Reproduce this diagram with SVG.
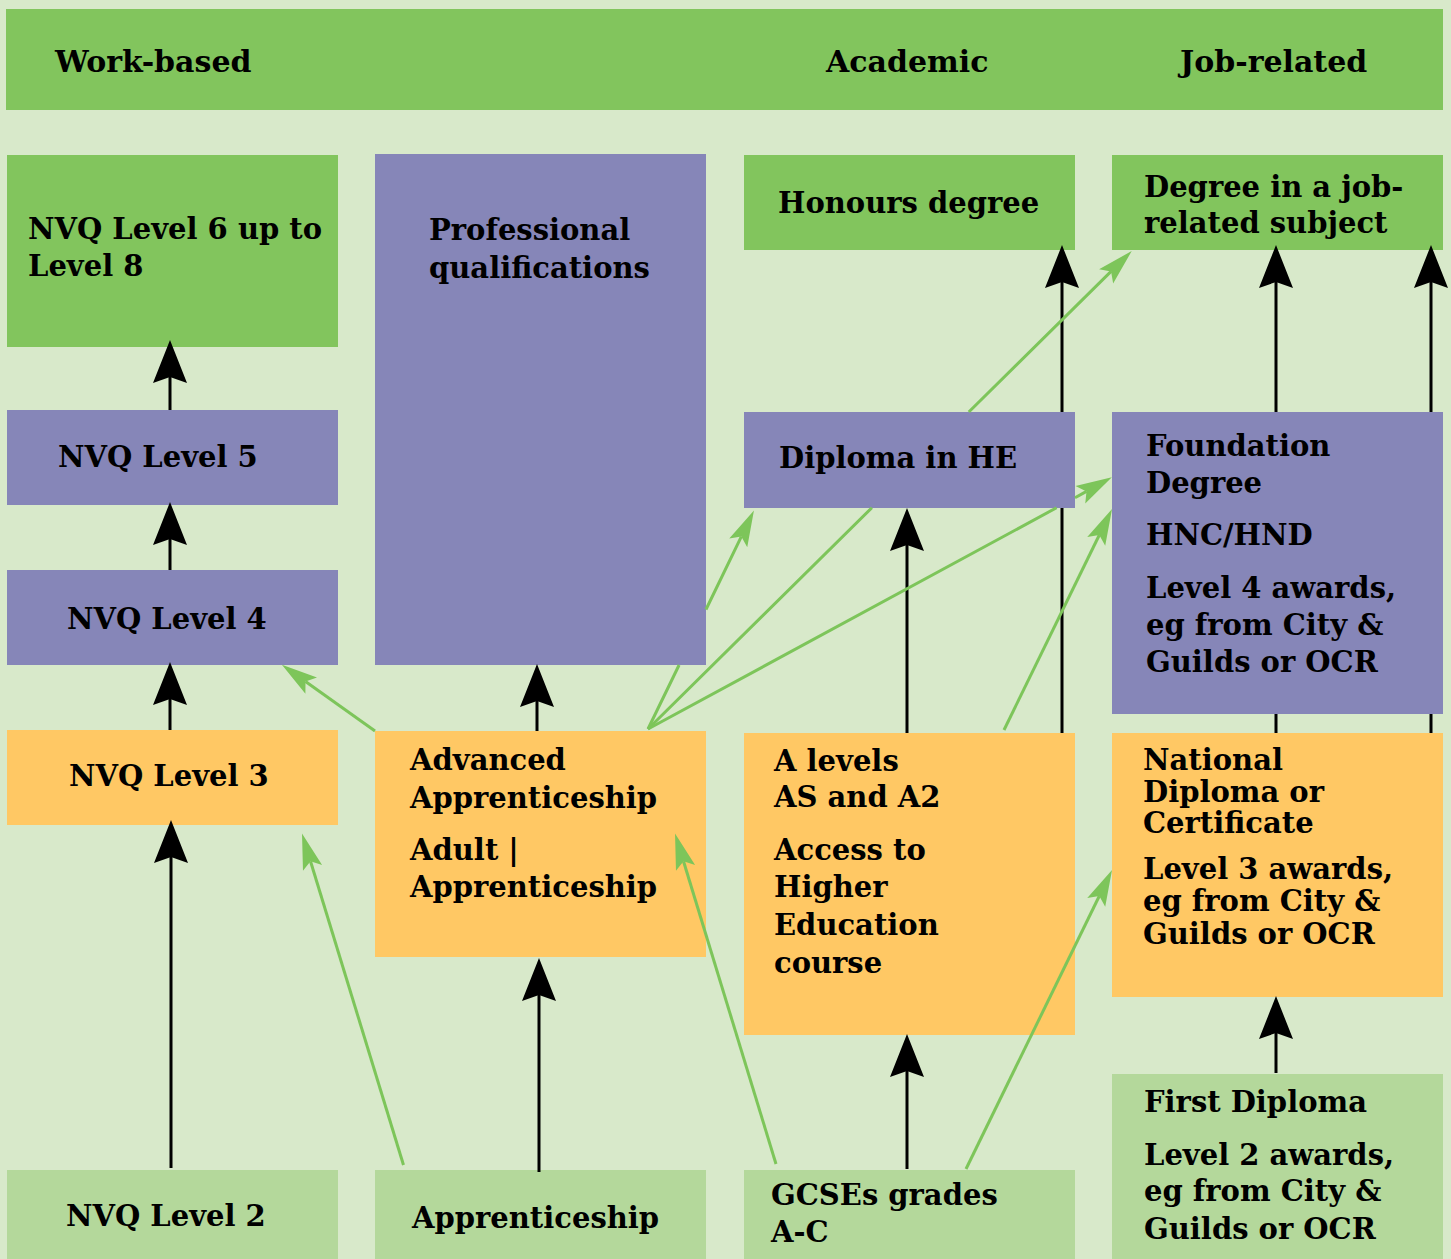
<svg xmlns="http://www.w3.org/2000/svg" width="1451" height="1259" viewBox="0 0 1451 1259">
<defs>
<style>
.bg{fill:#D8E9CA}
.g{fill:#82C55D}
.p{fill:#8686B8}
.o{fill:#FFC864}
.lg{fill:#B4D89B}
text{font-family:"DejaVu Serif","Liberation Serif",serif;font-weight:bold;font-size:29px;fill:#000}
.h{font-size:30px}
.bk{stroke:#000;stroke-width:3;fill:none;marker-end:url(#ab)}
.gr{stroke:#7DC55A;stroke-width:3;fill:none;marker-end:url(#ag)}
</style>
<marker id="ab" markerUnits="userSpaceOnUse" viewBox="-44 -18 45 36" markerWidth="45" markerHeight="36" refX="-37" refY="0" orient="auto">
<path d="M0,0 L-43,-17 L-37,0 L-43,17 Z" fill="#000"/>
</marker>
<marker id="ag" markerUnits="userSpaceOnUse" viewBox="-37 -11 38 22" markerWidth="38" markerHeight="22" refX="-29" refY="0" orient="auto">
<path d="M0,0 L-36,-10 L-29,0 L-36,10 Z" fill="#7DC55A"/>
</marker>
</defs>
<rect class="bg" x="0" y="0" width="1451" height="1259"/>
<g id="header">
<rect class="g" x="6" y="9" width="1437" height="101"/>
<text class="h" x="55" y="72">Work-based</text>
<text class="h" x="826" y="72">Academic</text>
<text class="h" x="1180" y="72">Job-related</text>
</g>
<g id="nodes">
<g id="nvq6"><rect class="g" x="7" y="155" width="331" height="192"/><text x="28" y="239">NVQ Level 6 up to</text><text x="28" y="276">Level 8</text></g>
<g id="prof"><rect class="p" x="375" y="154" width="331" height="511"/><text x="429" y="240">Professional</text><text x="429" y="278">qualifications</text></g>
<g id="honours"><rect class="g" x="744" y="155" width="331" height="95"/><text x="778" y="213">Honours degree</text></g>
<g id="degjob"><rect class="g" x="1112" y="155" width="331" height="95"/><text x="1144" y="197">Degree in a job-</text><text x="1144" y="233">related subject</text></g>
<g id="nvq5"><rect class="p" x="7" y="410" width="331" height="95"/><text x="58" y="467">NVQ Level 5</text></g>
<g id="diphe"><rect class="p" x="744" y="412" width="331" height="96"/><text x="779" y="468">Diploma in HE</text></g>
<g id="foundation"><rect class="p" x="1112" y="412" width="331" height="302"/><text x="1146" y="456">Foundation</text><text x="1146" y="493">Degree</text><text x="1146" y="545">HNC/HND</text><text x="1146" y="598">Level 4 awards,</text><text x="1146" y="635">eg from City &amp;</text><text x="1146" y="672">Guilds or OCR</text></g>
<g id="nvq4"><rect class="p" x="7" y="570" width="331" height="95"/><text x="67" y="629">NVQ Level 4</text></g>
<g id="nvq3"><rect class="o" x="7" y="730" width="331" height="95"/><text x="69" y="786">NVQ Level 3</text></g>
<g id="advapp"><rect class="o" x="375" y="731" width="331" height="226"/><text x="410" y="770">Advanced</text><text x="410" y="808">Apprenticeship</text><text x="410" y="860">Adult |</text><text x="410" y="897">Apprenticeship</text></g>
<g id="alevels"><rect class="o" x="744" y="733" width="331" height="302"/><text x="774" y="771">A levels</text><text x="774" y="807">AS and A2</text><text x="774" y="860">Access to</text><text x="774" y="897">Higher</text><text x="774" y="935">Education</text><text x="774" y="973">course</text></g>
<g id="national"><rect class="o" x="1112" y="733" width="331" height="264"/><text x="1143" y="770">National</text><text x="1143" y="802">Diploma or</text><text x="1143" y="833">Certificate</text><text x="1143" y="879">Level 3 awards,</text><text x="1143" y="911">eg from City &amp;</text><text x="1143" y="944">Guilds or OCR</text></g>
<g id="nvq2"><rect class="lg" x="7" y="1170" width="331" height="89"/><text x="66" y="1226">NVQ Level 2</text></g>
<g id="appr"><rect class="lg" x="375" y="1170" width="331" height="89"/><text x="412" y="1228">Apprenticeship</text></g>
<g id="gcse"><rect class="lg" x="744" y="1170" width="331" height="89"/><text x="771" y="1205">GCSEs grades</text><text x="771" y="1242">A-C</text></g>
<g id="first"><rect class="lg" x="1112" y="1074" width="331" height="185"/><text x="1144" y="1112">First Diploma</text><text x="1144" y="1165">Level 2 awards,</text><text x="1144" y="1201">eg from City &amp;</text><text x="1144" y="1239">Guilds or OCR</text></g>
</g>
<g id="connectors">
<path class="bk" d="M170,410 L170,377"/>
<path class="bk" d="M170,570 L170,539"/>
<path class="bk" d="M170,730 L170,699"/>
<path class="bk" d="M171,1168 L171,857"/>
<path class="bk" d="M537,731 L537,701"/>
<path class="bk" d="M539,1172 L539,995"/>
<path class="bk" d="M907,733 L907,545"/>
<path class="bk" d="M1062,733 L1062,508 M1062,412 L1062,282"/>
<path class="bk" d="M907,1169 L907,1071"/>
<path class="bk" d="M1276,1073 L1276,1033"/>
<path class="bk" d="M1276,733 L1276,714 M1276,412 L1276,282"/>
<path class="bk" d="M1431,733 L1431,714 M1431,412 L1431,282"/>
<path class="gr" d="M375,731 L305.5,681.5"/>
<path class="gr" d="M403.5,1165 L310.5,861.2"/>
<path class="gr" d="M776,1164 L683.5,861.2"/>
<path class="gr" d="M966,1169 L1099.3,896"/>
<path class="gr" d="M648,729 L679.1,665 M706,609.5 L741.3,536.6"/>
<path class="gr" d="M648,729 L871.9,507.7 M968.8,412 L1111.1,271.4"/>
<path class="gr" d="M648,729 L1056.6,507.7 M1075,497.8 L1086.5,491.4"/>
<path class="gr" d="M1004,730 L1099.3,535"/>
</g>
</svg>
